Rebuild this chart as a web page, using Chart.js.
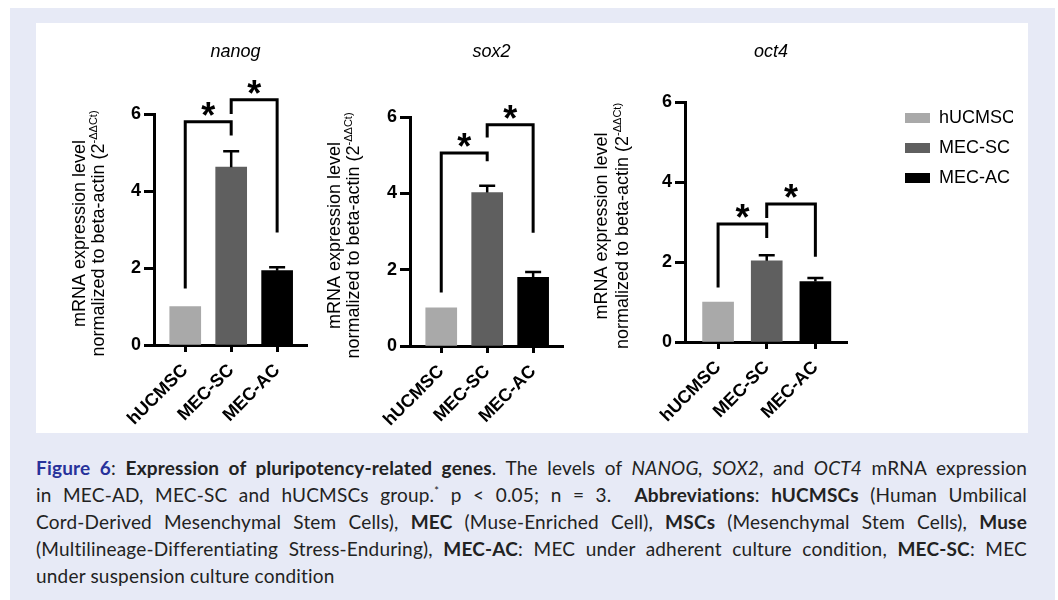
<!DOCTYPE html>
<html lang="en">
<head>
  <meta charset="utf-8">
  <title>Expression of pluripotency-related genes</title>
  <style>
    body { margin: 0; background: #fff; width: 1058px; height: 600px; position: relative; overflow: hidden; }
    #frame { position: absolute; left: 10px; top: 8px; width: 1045px; height: 592px; background: #e7eaf6; }
    #figure { position: absolute; left: 36px; top: 23px; width: 992px; height: 410px; background: #fff; }
    canvas { position: absolute; }
    #caption { position: absolute; left: 36px; top: 454px; width: 991px; font-family: Lato, "Noto Sans", sans-serif; font-size: 19px; letter-spacing: 0.2px; color: #222; }
    .ln { height: 27px; line-height: 27px; text-align: justify; text-align-last: justify; }
    .ln.last { text-align-last: left; }
    .fig { color: #27329b; }
    sup { font-size: 11px; line-height: 0; }
  </style>
</head>
<body>
  <div id="frame"></div>
  <div id="figure"></div>
  <canvas id="chartNanog" width="280" height="400" style="left:40px;top:30px"></canvas>
  <canvas id="chartSox2" width="280" height="400" style="left:300px;top:30px"></canvas>
  <canvas id="chartOct4" width="450" height="400" style="left:580px;top:30px"></canvas>

  <div id="caption">
    <div class="ln"><b class="fig">Figure 6</b>: <b>Expression of pluripotency-related genes</b>. The levels of <i>NANOG, SOX2</i>, and <i>OCT4</i> mRNA expression</div>
    <div class="ln">in MEC-AD, MEC-SC and hUCMSCs group.<sup>*</sup> p &lt; 0.05; n = 3.&nbsp; <b>Abbreviations</b>: <b>hUCMSCs</b> (Human Umbilical</div>
    <div class="ln">Cord-Derived Mesenchymal Stem Cells), <b>MEC</b> (Muse-Enriched Cell), <b>MSCs</b> (Mesenchymal Stem Cells), <b>Muse</b></div>
    <div class="ln">(Multilineage-Differentiating Stress-Enduring), <b>MEC-AC</b>: MEC under adherent culture condition, <b>MEC-SC</b>: MEC</div>
    <div class="ln last">under suspension culture condition</div>
  </div>

  <script src="https://cdn.jsdelivr.net/npm/chart.js/dist/chart.umd.min.js"></script>
  <script>
    // data
    const groups = ['hUCMSC', 'MEC-SC', 'MEC-AC'];
    const genes = ['nanog', 'sox2', 'oct4'];
    const yTicks = [0, 2, 4, 6];

    const nanogMeans = [1.0, 4.62, 1.93];
    const nanogErrors = [0, 0.41, 0.09];
    const sox2Means = [1.0, 4.02, 1.80];
    const sox2Errors = [0, 0.18, 0.14];
    const oct4Means = [1.0, 2.03, 1.51];
    const oct4Errors = [0, 0.14, 0.09];

    // significance brackets: [from group, to group, left foot, top, right foot]
    const nanogBrackets = [[0, 1, 1.47, 5.80, 5.44], [1, 2, 6.00, 6.37, 2.92]];
    const sox2Brackets = [[0, 1, 1.40, 5.06, 4.84], [1, 2, 5.46, 5.80, 2.97]];
    const oct4Brackets = [[0, 1, 1.36, 2.95, 2.60], [1, 2, 3.10, 3.45, 2.13]];

    const barColors = ['#a9a9a9', '#5f5f5f', '#000000'];
    const axisFont = '"Liberation Sans", Arial, sans-serif';

    Chart.defaults.font.family = axisFont;
    Chart.defaults.color = '#000';

    // error bars, brackets, stars, gene title and the y title with its superscript
    function figureMarks(p) {
      return {
        id: 'figureMarks',
        afterLayout(chart) {
          if (p.legend) {
            chart.legend.top -= 5;
            chart.legend.bottom -= 5;
          }
        },
        afterDraw(chart) {
          const ctx = chart.ctx;
          const x = chart.scales.x;
          const y = chart.scales.y;
          const area = chart.chartArea;
          ctx.save();
          ctx.strokeStyle = '#000';
          ctx.fillStyle = '#000';

          ctx.lineWidth = 2.5;
          p.means.forEach((m, i) => {
            if (!p.errors[i]) return;
            const px = x.getPixelForValue(i);
            const top = y.getPixelForValue(m + p.errors[i]);
            ctx.beginPath();
            ctx.moveTo(px, y.getPixelForValue(m));
            ctx.lineTo(px, top);
            ctx.moveTo(px - 8, top);
            ctx.lineTo(px + 8, top);
            ctx.stroke();
          });

          ctx.lineWidth = 3;
          ctx.lineJoin = 'miter';
          ctx.font = 'bold 36px ' + axisFont;
          ctx.textAlign = 'center';
          ctx.textBaseline = 'alphabetic';
          p.brackets.forEach(([a, b, footA, top, footB]) => {
            const xa = x.getPixelForValue(a);
            const xb = x.getPixelForValue(b);
            const yt = y.getPixelForValue(top);
            ctx.beginPath();
            ctx.moveTo(xa, y.getPixelForValue(footA));
            ctx.lineTo(xa, yt);
            ctx.lineTo(xb, yt);
            ctx.lineTo(xb, y.getPixelForValue(footB));
            ctx.stroke();
            ctx.fillText('*', (xa + xb) / 2, yt + 6);
          });

          // gene name
          ctx.font = 'italic 18px ' + axisFont;
          ctx.fillText(p.gene, (area.left + area.right) / 2 + 5, 27);

          // y title, two lines
          const cy = (area.top + area.bottom) / 2 + 4;
          ctx.save();
          ctx.translate(area.left + p.titleOff[0], cy);
          ctx.rotate(-Math.PI / 2);
          ctx.font = '18px ' + axisFont;
          ctx.fillText('mRNA expression level', 0, 0);
          ctx.restore();

          ctx.save();
          ctx.translate(area.left + p.titleOff[1], cy);
          ctx.rotate(-Math.PI / 2);
          const main = 'normalized to beta-actin (2';
          const sup = '-\u0394\u0394Ct)';
          ctx.font = '18px ' + axisFont;
          const wMain = ctx.measureText(main).width;
          ctx.font = '11px ' + axisFont;
          const wSup = ctx.measureText(sup).width;
          const start = -(wMain + wSup) / 2;
          ctx.textAlign = 'left';
          ctx.font = '18px ' + axisFont;
          ctx.fillText(main, start, 0);
          ctx.font = '11px ' + axisFont;
          ctx.fillText(sup, start + wMain, -7);
          ctx.restore();

          ctx.restore();
        }
      };
    }

    function makeChart(canvasId, p) {
      const scales = {
        x: {
          type: 'linear',
          offset: false,
          min: -0.68,
          max: 2.65,
          afterBuildTicks: (s) => { s.ticks = groups.map((g, i) => ({ value: i })); },
          afterFit: (s) => { s.height = p.xHeight; },
          ticks: {
            autoSkip: false,
            minRotation: 45,
            maxRotation: 45,
            padding: 8,
            font: { size: 18, weight: 'bold' },
            callback: (v) => groups[v]
          },
          grid: { drawOnChartArea: false, offset: false, tickLength: 7, tickWidth: 3, tickColor: '#000' },
          border: { color: '#000', width: 3 }
        },
        y: {
          min: 0,
          max: 6,
          afterBuildTicks: (s) => { s.ticks = yTicks.map((v) => ({ value: v })); },
          afterFit: (s) => { s.width = 40; },
          ticks: { padding: 3, font: { size: 18, weight: 'bold' } },
          grid: { drawOnChartArea: false, tickLength: 10, tickWidth: 3, tickColor: '#000' },
          border: { color: '#000', width: 3 }
        }
      };
      if (p.legend) {
        // empty column between the plot and the legend
        scales.gap = {
          type: 'linear',
          position: 'right',
          grid: { display: false },
          ticks: { display: false },
          border: { display: false },
          afterFit: (s) => { s.width = 46; }
        };
      }

      return new Chart(document.getElementById(canvasId), {
        type: 'bar',
        data: {
          datasets: [{
            label: p.gene,
            data: p.means.map((m, i) => ({ x: i, y: m })),
            backgroundColor: barColors,
            borderWidth: 0,
            barThickness: 31
          }]
        },
        options: {
          responsive: false,
          animation: false,
          layout: { padding: p.padding },
          scales: scales,
          plugins: {
            tooltip: { enabled: false },
            legend: {
              display: !!p.legend,
              position: 'right',
              align: 'start',
              maxWidth: 120,
              labels: {
                boxWidth: 25,
                boxHeight: 10,
                padding: 12,
                color: '#000',
                font: { size: 18 },
                generateLabels: () => groups.map((g, i) => ({
                  text: g,
                  fillStyle: barColors[i],
                  strokeStyle: barColors[i],
                  lineWidth: 0,
                  fontColor: '#000',
                  hidden: false,
                  index: i
                }))
              }
            }
          }
        },
        plugins: [figureMarks(p)]
      });
    }

    makeChart('chartNanog', {
      gene: genes[0], means: nanogMeans, errors: nanogErrors, brackets: nanogBrackets,
      padding: { left: 74, top: 84, right: 13, bottom: 0 }, xHeight: 85, titleOff: [-69, -50]
    });
    makeChart('chartSox2', {
      gene: genes[1], means: sox2Means, errors: sox2Errors, brackets: sox2Brackets,
      padding: { left: 70, top: 87, right: 17, bottom: 0 }, xHeight: 84, titleOff: [-70, -51]
    });
    makeChart('chartOct4', {
      gene: genes[2], means: oct4Means, errors: oct4Errors, brackets: oct4Brackets,
      padding: { left: 65, top: 72, right: 17, bottom: 0 }, xHeight: 88, titleOff: [-78, -57],
      legend: true
    });
  </script>
</body>
</html>
